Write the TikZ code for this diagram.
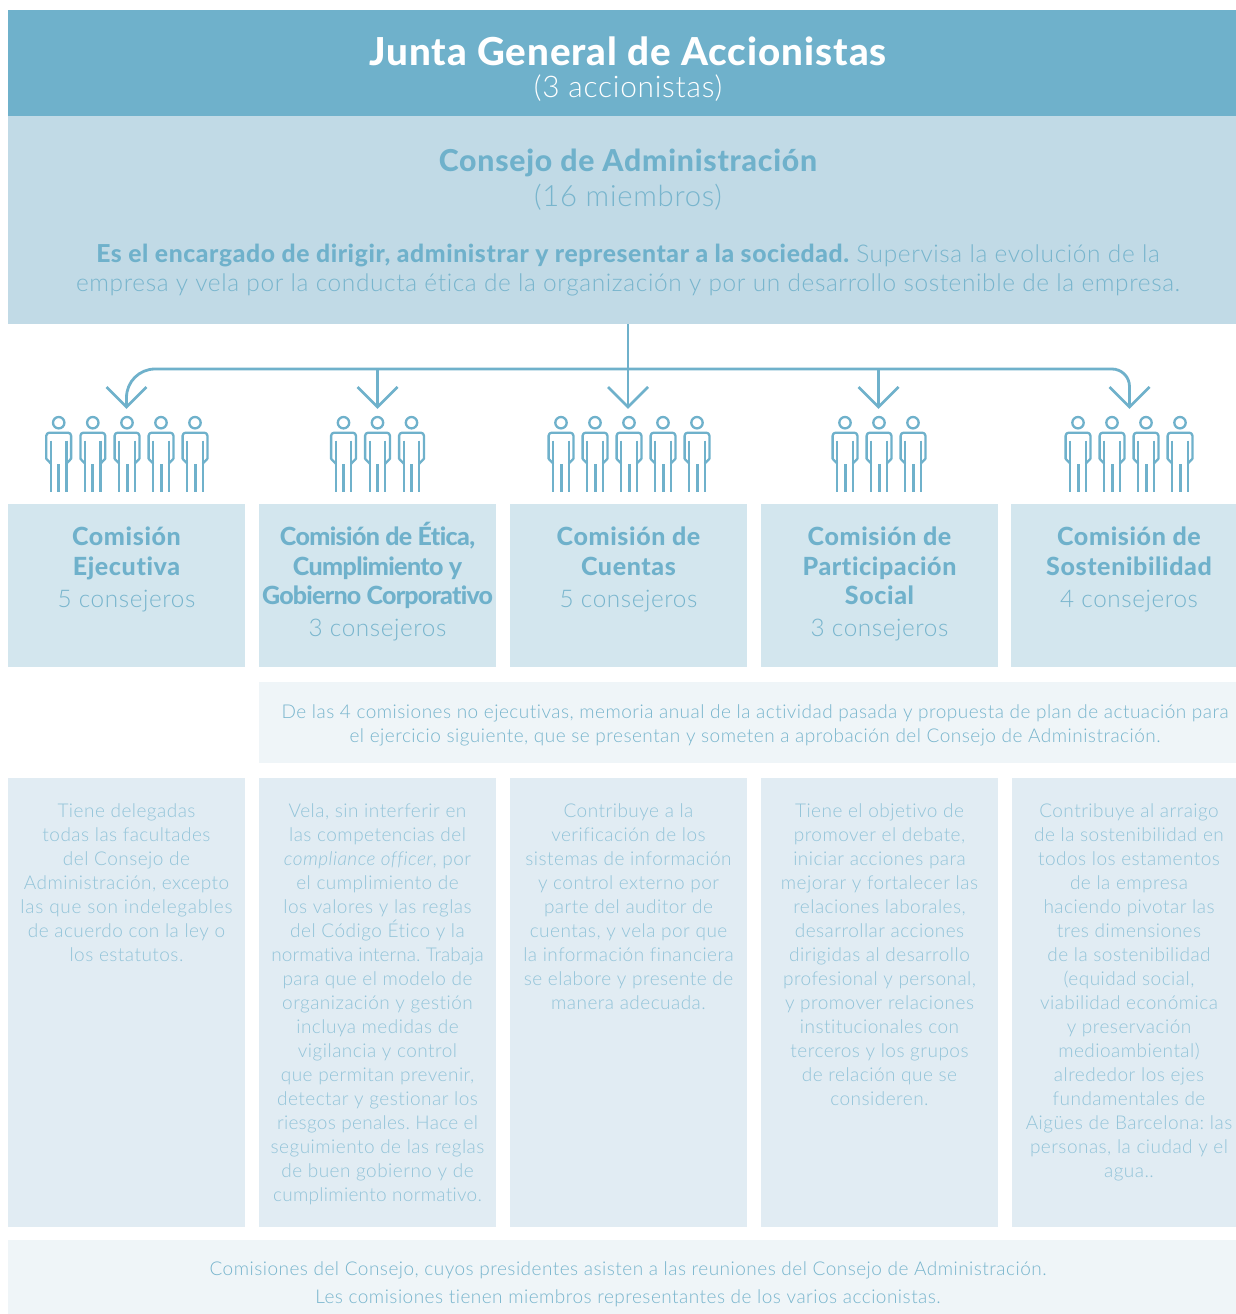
\documentclass[tikz,border=0pt]{standalone}
\usepackage{fontspec}
\setmainfont{Lato Light}[BoldFont={Lato Heavy},ItalicFont={Lato Light Italic},LetterSpace=2.5,Ligatures=CommonOff]
\definecolor{hdr}{HTML}{6FB1CB}
\definecolor{cons}{HTML}{C1DAE6}
\definecolor{comi}{HTML}{D3E6EE}
\definecolor{pale}{HTML}{EFF5F8}
\definecolor{desc}{HTML}{E1ECF3}
\definecolor{txtlight}{HTML}{93C4D9}
\definecolor{txtmid}{HTML}{78B5CD}
\newcommand{\ccount}[1]{\fontsize{24.3}{29}\selectfont\mdseries\color{txtmid}#1}
\newcommand{\tight}[1]{{\addfontfeature{LetterSpace=-2.5}#1}}
\newcommand{\ls}[2]{{\addfontfeature{LetterSpace=#1}#2}}
\tikzset{
  box/.style={anchor=north west,inner sep=0,outer sep=0,draw=none},
  label/.style={anchor=north,inner sep=0,align=center,text=txtmid},
  desctext/.style={label,text=txtlight,font=\frenchspacing\fontsize{19}{24}\selectfont},
  comname/.style={label,text=hdr,font=\fontsize{25}{29.7}\selectfont\bfseries},
  conn/.style={draw=hdr,line width=2.8pt,line join=miter},
  person/.pic={
    \draw[hdr,line width=2.3pt] (0,-10) circle (5.7);
    \draw[hdr,line width=2.3pt,line join=round] (-7.7,31) -- (-12.4,26) -- (-12.4,3) arc[start angle=180,end angle=270,radius=3] -- (9.4,0) arc[start angle=270,end angle=360,radius=3] -- (12.4,26) -- (7.7,31);
    \draw[hdr,line width=2.3pt] (-7.7,8) -- (-7.7,59.3) (7.7,8) -- (7.7,59.3);
    \draw[hdr,line width=3pt] (0,31.5) -- (0,59.3);
  },
}
\newcommand{\fillbox}[6]{\node[box,fill=#2,minimum width=#5pt-#3pt,minimum height=#6pt-#4pt] (#1) at (#3,#4) {};}
\begin{document}
\begin{tikzpicture}[x=1pt,y=-1pt]
\useasboundingbox (0,0) rectangle (1236,1314);
\fill[white] (0,0) rectangle (1236,1314);
\fillbox{junta}{hdr}{8}{10}{1236}{116}
\fillbox{consejo}{cons}{8}{116}{1236}{324}
\fillbox{c1}{comi}{8}{504}{245}{667}
\fillbox{c2}{comi}{259}{504}{496}{667}
\fillbox{c3}{comi}{510}{504}{747}{667}
\fillbox{c4}{comi}{761}{504}{998}{667}
\fillbox{c5}{comi}{1011}{504}{1236}{667}
\fillbox{nota}{pale}{259}{682}{1236}{763}
\fillbox{d1}{desc}{8}{778}{245}{1227}
\fillbox{d2}{desc}{259}{778}{496}{1227}
\fillbox{d3}{desc}{510}{778}{747}{1227}
\fillbox{d4}{desc}{761}{778}{998}{1227}
\fillbox{d5}{desc}{1012}{778}{1236}{1227}
\fillbox{pie}{pale}{8}{1240}{1236}{1314}

\node[label,text=white,font=\fontsize{38.5}{38.5}\selectfont\bfseries] (t1) at (628,36.5) {Junta General de Accionistas};
\node[label,text=white,font=\fontsize{29.8}{29.8}\selectfont] (t2) at (628,75) {(3 accionistas)};
\node[label,text=hdr,font=\fontsize{30.2}{30.2}\selectfont\bfseries] (t3) at (628,149) {Consejo de Administración};
\node[label,text=txtmid,font=\fontsize{29.3}{29.3}\selectfont] (t4) at (628,183.5) {(16 miembros)};
\node[label,text=txtmid,font=\frenchspacing\fontsize{24.45}{29}\selectfont] (t5) at (628,244) {{\color{hdr}\bfseries\fontsize{24.7}{29}\selectfont Es el encargado de dirigir, administrar y representar a la sociedad.} Supervisa la evolución de la\\empresa y vela por la conducta ética de la organización y por un desarrollo sostenible de la empresa.};

\foreach \x in {58.7,92.8,127,161,195,343.5,377.5,411.5,561,595,629,663,697,845,879,913,1078,1112,1146,1180} \pic at (\x,432.7) {person};

\coordinate (hub) at (628,369);
\coordinate (a1) at (126.5,407);
\coordinate (a2) at (377.5,407);
\coordinate (a3) at (628,407);
\coordinate (a4) at (878.5,407);
\coordinate (a5) at (1129.5,407);
\draw[conn] (consejo.south -| hub) -- (a3);
\draw[conn] (hub) -- (155,369) arc[start angle=270,end angle=180,radius=28.5] -- (a1);
\draw[conn] (hub) -- (1112,369) arc[start angle=270,end angle=360,radius=17.5] -- (a5);
\draw[conn] (a2 |- hub) -- (a2);
\draw[conn] (a4 |- hub) -- (a4);
\foreach \a in {a1,a2,a3,a4,a5} \draw[conn] ([shift={(-20,-20)}]\a) -- (\a) -- ([shift={(20,-20)}]\a);

\node[comname] (n1) at (126.5,522) {\vphantom{É}Comisión\\Ejecutiva\\[3pt]\ccount{5 consejeros}};
\node[comname] (n2) at (377.5,522) {\vphantom{É}\tight{Comisión de Ética,}\\\tight{Cumplimiento y}\\\addfontfeature{LetterSpace=-3}Gobierno Corporativo\\[2pt]\ccount{3 consejeros}};
\node[comname] (n3) at (628.5,522) {\vphantom{É}Comisión de\\Cuentas\\[3pt]\ccount{5 consejeros}};
\node[comname] (n4) at (879.5,522) {\vphantom{É}Comisión de\\Participación\\Social\\[2pt]\ccount{3 consejeros}};
\node[comname] (n5) at (1129,522) {\vphantom{É}Comisión de\\Sostenibilidad\\[3pt]\ccount{4 consejeros}};

\node[desctext,text=txtmid] (nt) at (755,704) {De las 4 comisiones no ejecutivas, memoria anual de la actividad pasada y propuesta de plan de actuación para\\el ejercicio siguiente, que se presentan y someten a aprobación del Consejo de Administración.};

\node[desctext] (e1) at (126.5,803.5) {Tiene delegadas\\todas las facultades\\del Consejo de\\Administración, excepto\\\ls{3.8}{las que son indelegables}\\de acuerdo con la ley o\\los estatutos.};
\node[desctext] (e2) at (377.5,803.5) {Vela, sin interferir en\\las competencias del\\\textit{compliance officer}, por\\el cumplimiento de\\los valores y las reglas\\del Código Ético y la\\\ls{0.3}{normativa interna. Trabaja}\\para que el modelo de\\organización y gestión\\incluya medidas de\\vigilancia y control\\que permitan prevenir,\\detectar y gestionar los\\\ls{1.5}{riesgos penales. Hace el}\\seguimiento de las reglas\\de buen gobierno y de\\\ls{1.5}{cumplimiento normativo.}};
\node[desctext] (e3) at (628.5,803.5) {Contribuye a la\\verificación de los\\sistemas de información\\y control externo por\\parte del auditor de\\cuentas, y vela por que\\la información financiera\\se elabore y presente de\\manera adecuada.};
\node[desctext] (e4) at (879.5,803.5) {Tiene el objetivo de\\promover el debate,\\iniciar acciones para\\mejorar y fortalecer las\\relaciones laborales,\\desarrollar acciones\\dirigidas al desarrollo\\profesional y personal,\\y promover relaciones\\institucionales con\\terceros y los grupos\\de relación que se\\consideren.};
\node[desctext] (e5) at (1129,803.5) {Contribuye al arraigo\\de la sostenibilidad en\\todos los estamentos\\de la empresa\\haciendo pivotar las\\tres dimensiones\\de la sostenibilidad\\(equidad social,\\viabilidad económica\\y preservación\\medioambiental)\\alrededor los ejes\\fundamentales de\\Aigües de Barcelona: las\\personas, la ciudad y el\\agua..};

\node[desctext,text=txtmid,font=\frenchspacing\fontsize{19}{28}\selectfont] (f1) at (628,1261) {Comisiones del Consejo, cuyos presidentes asisten a las reuniones del Consejo de Administración.\\Les comisiones tienen miembros representantes de los varios accionistas.};
\end{tikzpicture}
\end{document}
